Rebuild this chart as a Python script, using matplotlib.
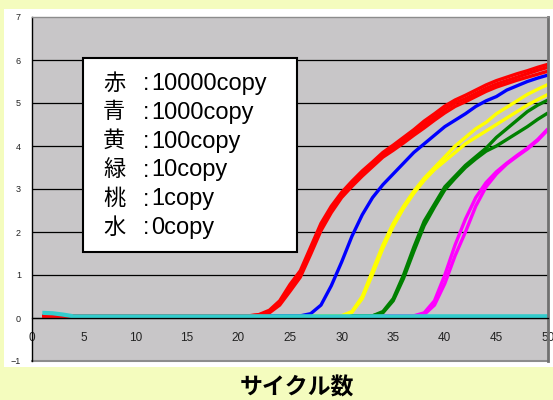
import matplotlib
matplotlib.use("Agg")
import matplotlib.pyplot as plt
from matplotlib.patches import Rectangle

plt.rcParams["font.family"] = ["Liberation Sans", "Noto Sans CJK JP", "DejaVu Sans"]

# ── data ──────────────────────────────────────────────────────────────
cycles = list(range(1, 51))

red_1 = [0.05] * 21 + [0.08, 0.18, 0.40, 0.78, 1.10, 1.65, 2.20, 2.60, 2.92, 3.18,
                       3.42, 3.63, 3.85, 4.02, 4.20, 4.38, 4.58, 4.75, 4.93, 5.07,
                       5.18, 5.30, 5.42, 5.52, 5.60, 5.68, 5.75, 5.83, 5.90]
red_2 = [0.05] * 21 + [0.07, 0.15, 0.35, 0.70, 1.02, 1.57, 2.12, 2.52, 2.86, 3.12,
                       3.36, 3.57, 3.80, 3.97, 4.14, 4.32, 4.50, 4.67, 4.85, 5.00,
                       5.10, 5.22, 5.34, 5.44, 5.52, 5.60, 5.68, 5.76, 5.83]
red_3 = [0.05] * 21 + [0.06, 0.12, 0.30, 0.62, 0.95, 1.48, 2.03, 2.45, 2.80, 3.06,
                       3.30, 3.52, 3.74, 3.90, 4.07, 4.25, 4.42, 4.60, 4.77, 4.92,
                       5.03, 5.15, 5.27, 5.37, 5.45, 5.53, 5.60, 5.67, 5.74]
blue_1 = [0.05] * 26 + [0.10, 0.30, 0.75, 1.30, 1.90, 2.40, 2.80, 3.10, 3.35, 3.60,
                        3.85, 4.05, 4.25, 4.45, 4.60, 4.75, 4.92, 5.05, 5.15, 5.30,
                        5.40, 5.50, 5.58, 5.65]
yellow_1 = [0.05] * 30 + [0.15, 0.50, 1.10, 1.70, 2.20, 2.60, 2.95, 3.25, 3.50, 3.75,
                          4.00, 4.20, 4.40, 4.55, 4.75, 4.90, 5.05, 5.20, 5.32, 5.43]
yellow_2 = [0.05] * 30 + [0.13, 0.45, 1.02, 1.62, 2.13, 2.55, 2.90, 3.20, 3.45, 3.65,
                          3.85, 4.05, 4.20, 4.35, 4.50, 4.65, 4.80, 4.95, 5.08, 5.20]
green_1 = [0.05] * 33 + [0.15, 0.45, 1.00, 1.65, 2.25, 2.65, 3.05, 3.30, 3.55, 3.75,
                         3.95, 4.20, 4.40, 4.60, 4.80, 4.95, 5.07]
green_2 = [0.05] * 33 + [0.12, 0.40, 0.92, 1.55, 2.15, 2.58, 2.98, 3.25, 3.50, 3.70,
                         3.88, 4.00, 4.15, 4.30, 4.45, 4.62, 4.77]
pink_1 = [0.05] * 37 + [0.12, 0.40, 1.00, 1.70, 2.30, 2.80, 3.15, 3.40, 3.60, 3.78,
                        3.95, 4.15, 4.40]
pink_2 = [0.05] * 37 + [0.08, 0.30, 0.80, 1.45, 2.00, 2.60, 3.05, 3.35, 3.58, 3.76,
                        3.93, 4.13, 4.38]
cyan_1 = [0.12, 0.11, 0.08] + [0.04] * 47

series = [
    (pink_2, "#FF00FF", 2.4), (pink_1, "#FF00FF", 2.4),
    (green_2, "#008000", 2.4), (green_1, "#008000", 2.4),
    (yellow_2, "#FFFF00", 2.4), (yellow_1, "#FFFF00", 2.4),
    (blue_1, "#0000FF", 2.4),
    (red_3, "#FF0000", 2.4), (red_2, "#FF0000", 2.4), (red_1, "#FF0000", 2.4),
    (cyan_1, "#33CCCC", 3.0),
]

legend_keys = ["赤", "青", "黄", "緑", "桃", "水"]
legend_vals = ["10000copy", "1000copy", "100copy", "10copy", "1copy", "0copy"]
x_label = "サイクル数"

# ── figure ────────────────────────────────────────────────────────────
W, H = 553, 400
fig = plt.figure(figsize=(W / 100, H / 100), dpi=100)
fig.patch.set_facecolor("#F4FCBE")


def px(x, y):
    return x / W, 1 - y / H


fig.add_artist(Rectangle(px(4, 367), (W - 4) / W, (367 - 9) / H,
                         transform=fig.transFigure, facecolor="white",
                         edgecolor="none", zorder=-5))

ax = fig.add_axes([32 / W, (H - 361) / H, (548 - 32) / W, (361 - 17) / H])
ax.set_facecolor("#C8C6C8")

for vals, col, lw in series:
    ax.plot(cycles, vals, color=col, lw=lw, solid_capstyle="butt",
            solid_joinstyle="round")

ax.set_xlim(0, 50)
ax.set_ylim(-1, 7)
ax.set_xticks(range(0, 51, 5))
ax.set_yticks(range(-1, 8))
ax.set_yticklabels([str(v).replace("-", "\u2212") for v in range(-1, 8)])

ax.yaxis.grid(True, color="black", lw=0.9)
gls = ax.get_ygridlines()
gls[0].set_visible(False)
gls[-1].set_visible(False)
ax.set_axisbelow(True)

ax.spines["bottom"].set_position(("data", 0))
ax.spines["bottom"].set_color("black")
ax.spines["bottom"].set_linewidth(0.9)
ax.spines["left"].set_color("black")
ax.spines["left"].set_linewidth(1.0)
ax.spines["top"].set_color("#8C8C8C")
ax.spines["top"].set_linewidth(1.0)
ax.spines["right"].set_color("#707070")
ax.spines["right"].set_linewidth(2.0)
ax.axhline(-1, color="#8C8C8C", lw=1.5, clip_on=False)

ax.tick_params(axis="x", length=0, pad=10, labelsize=8.5, colors="#222222")
ax.tick_params(axis="y", length=0, pad=8, labelsize=6.5, colors="#222222")

# legend box
fig.add_artist(Rectangle(px(83, 252), (297 - 83) / W, (252 - 58) / H,
                         transform=fig.transFigure, facecolor="white",
                         edgecolor="black", lw=1.5, zorder=5))
for i, (k, v) in enumerate(zip(legend_keys, legend_vals)):
    yy = 84 + i * 28.8
    fig.text(*px(103, yy), k, fontsize=16, va="center", ha="left", zorder=6)
    fig.text(*px(143, yy), ":", fontsize=16.5, va="center", ha="left", zorder=6)
    fig.text(*px(151, yy), v, fontsize=17, va="center", ha="left", zorder=6)

fig.text(*px(297, 388), x_label, fontsize=16.5, fontweight="bold",
         ha="center", va="center")

fig.savefig("out.png", dpi=100, facecolor=fig.get_facecolor())
